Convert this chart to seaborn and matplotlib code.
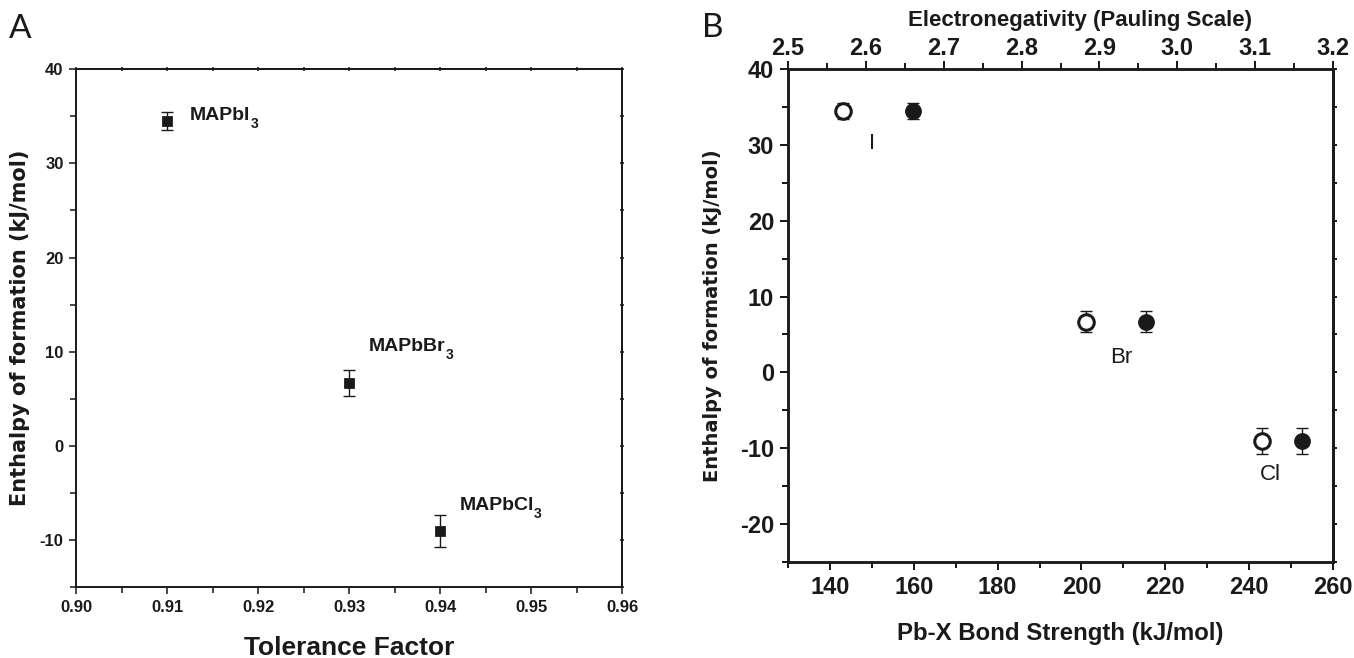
import seaborn as sns
import numpy as np
import matplotlib.pyplot as plt
import pandas as pd
from matplotlib.ticker import MultipleLocator, NullFormatter

# Data
compounds = ['MAPbI', 'MAPbBr', 'MAPbCl']
halides = ['I', 'Br', 'Cl']
tolerance = [0.91, 0.93, 0.94]
enthalpy = [34.5, 6.7, -9.1]
enthalpy_err = [1.0, 1.4, 1.7]
bond_strength = [143, 201, 243]
electroneg = [2.66, 2.96, 3.16]

df = pd.DataFrame({'Compound': compounds, 'Halide': halides,
                   'Tolerance': tolerance, 'Enthalpy': enthalpy,
                   'Err': enthalpy_err, 'Bond': bond_strength,
                   'EN': electroneg})

sns.set_style('ticks')
plt.rcParams['font.family'] = ['Liberation Sans', 'DejaVu Sans']
plt.rcParams['axes.unicode_minus'] = False
ink = '#1a1a1a'

fig = plt.figure(figsize=(13.54, 6.58), dpi=100)
axA = fig.add_axes([0.0562, 0.1079, 0.4033, 0.7868])
axB = fig.add_axes([0.5820, 0.1464, 0.4025, 0.7483])


def style_axis(ax, lw, size, major, minor):
    for s in ax.spines.values():
        s.set_linewidth(lw)
        s.set_color(ink)
        s.set_visible(True)
    ax.tick_params(which='major', length=major, width=lw * 0.8, color=ink,
                   labelsize=size, labelcolor=ink, pad=4)
    ax.tick_params(which='minor', length=minor, width=lw * 0.8, color=ink)
    for lab in ax.get_xticklabels() + ax.get_yticklabels():
        lab.set_fontweight('bold')


def small_ticks(ax, side, step_major, step_minor, lw, direction, length):
    if side in ('top', 'bottom'):
        sec = ax.secondary_xaxis(side)
        axis = sec.xaxis
    else:
        sec = ax.secondary_yaxis(side)
        axis = sec.yaxis
    axis.set_major_locator(MultipleLocator(step_major))
    axis.set_minor_locator(MultipleLocator(step_minor))
    axis.set_major_formatter(NullFormatter())
    sec.tick_params(which='both', direction=direction, length=length,
                    width=lw * 0.8, color=ink)
    sec.spines[side].set_linewidth(lw)
    sec.spines[side].set_color(ink)
    return sec


# ---------------- Panel A ----------------
axA.errorbar(df['Tolerance'], df['Enthalpy'], yerr=df['Err'], fmt='none',
             ecolor=ink, elinewidth=1, capsize=4, capthick=1, zorder=2)
sns.scatterplot(data=df, x='Tolerance', y='Enthalpy', marker='s', s=50,
                color=ink, edgecolor=ink, ax=axA, zorder=3, legend=False)
axA.set_xlim(0.90, 0.96)
axA.set_ylim(-15, 40)
axA.xaxis.set_major_locator(MultipleLocator(0.01))
axA.xaxis.set_minor_locator(MultipleLocator(0.005))
axA.yaxis.set_major_locator(MultipleLocator(10))
axA.yaxis.set_minor_locator(MultipleLocator(5))
axA.xaxis.set_major_formatter(lambda v, p: f'{v:.2f}')
style_axis(axA, 1.4, 12, 5, 4)
axA.tick_params(which='both', direction='out', top=False, right=False)
small_ticks(axA, 'top', 0.01, 0.005, 1.4, 'inout', 3)
small_ticks(axA, 'right', 10, 5, 1.4, 'inout', 3)
axA.set_xlabel('Tolerance Factor', fontsize=19, fontweight='bold',
               color=ink, va='center')
axA.xaxis.set_label_coords(0.5, -0.117)
axA.set_ylabel('Enthalpy of formation (kJ/mol)', fontsize=15,
               fontweight='bold', family='DejaVu Sans', labelpad=7,
               color=ink)

offsA = [(0.0025, 0.6), (0.0022, 3.8), (0.0021, 2.8)]
for (name, x, y), (dx, dy) in zip(zip(compounds, tolerance, enthalpy), offsA):
    t = axA.text(x + dx, y + dy, name, fontsize=14, fontweight='bold',
                 color=ink, va='center', ha='left')
    axA.annotate('3', xy=(1.0, 0.0), xycoords=t, fontsize=10,
                 fontweight='bold', color=ink, va='center', ha='left')

# ---------------- Panel B ----------------
axB.errorbar(df['Bond'], df['Enthalpy'], yerr=df['Err'], fmt='none',
             ecolor=ink, elinewidth=1, capsize=4, capthick=1, zorder=2)
sns.scatterplot(data=df, x='Bond', y='Enthalpy', marker='o', s=125,
                facecolor='white', edgecolor=ink, linewidth=2.2, ax=axB,
                zorder=3, legend=False)
axB.set_xlim(130, 260)
axB.set_ylim(-25, 40)
axB.xaxis.set_major_locator(MultipleLocator(20))
axB.xaxis.set_minor_locator(MultipleLocator(10))
axB.yaxis.set_major_locator(MultipleLocator(10))
axB.yaxis.set_minor_locator(MultipleLocator(5))
style_axis(axB, 1.8, 17, 6, 4)
axB.tick_params(which='both', right=False, direction='out')
small_ticks(axB, 'right', 10, 5, 1.8, 'out', 3)
axB.set_xlabel('Pb-X Bond Strength (kJ/mol)', fontsize=17.3,
               fontweight='bold', color=ink, va='center')
axB.xaxis.set_label_coords(0.5, -0.146)
axB.set_ylabel('Enthalpy of formation (kJ/mol)', fontsize=14,
               fontweight='bold', family='DejaVu Sans', labelpad=13,
               color=ink)

axT = axB.twiny()
axT.errorbar(df['EN'], df['Enthalpy'], yerr=df['Err'], fmt='none',
             ecolor=ink, elinewidth=1, capsize=4, capthick=1, zorder=2)
sns.scatterplot(data=df, x='EN', y='Enthalpy', marker='o', s=125,
                color=ink, edgecolor=ink, ax=axT, zorder=3, legend=False)
axT.set_xlim(2.5, 3.2)
axT.xaxis.set_major_locator(MultipleLocator(0.1))
axT.xaxis.set_minor_locator(MultipleLocator(0.05))
axT.xaxis.set_major_formatter(lambda v, p: f'{v:.1f}')
style_axis(axT, 1.8, 17, 6, 4)
axT.tick_params(which='major', pad=1)
axT.tick_params(which='both', right=False, left=False, labelleft=False,
                labelright=False)
axT.set_xlabel('Electronegativity (Pauling Scale)', fontsize=16,
               fontweight='bold', color=ink, va='center')
axT.xaxis.set_label_coords(0.535, 1.1)
axT.set_ylabel('')

offsB = [(7, -4.3), (8.5, -4.8), (2, -4.4)]
for (h, x, y), (dx, dy) in zip(zip(halides, bond_strength, enthalpy), offsB):
    axB.text(x + dx, y + dy, h, fontsize=16, color=ink,
             ha='center', va='center')

fig.text(0.0066, 0.9422, 'A', fontsize=24, color=ink, family='Lato',
         va='baseline')
fig.text(0.5185, 0.9440, 'B', fontsize=24, color=ink, family='Lato',
         va='baseline')

fig.savefig('out.png', dpi=100)
